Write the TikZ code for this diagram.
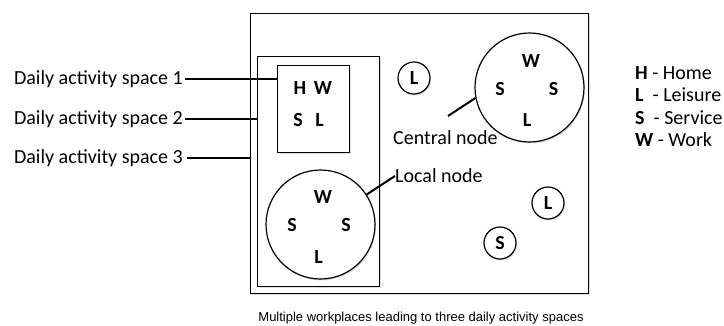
\documentclass[tikz,border=0pt]{standalone}
\usepackage{fontspec}
\setmainfont{Carlito}
\newfontfamily\captionfont{Liberation Sans}
\usetikzlibrary{shadows}

\begin{document}
\begin{tikzpicture}[x=1pt,y=-1pt,
  shade/.style={drop shadow={shadow xshift=1pt,shadow yshift=-1.5pt,opacity=0.25}},
  box/.style={draw,line width=1.2pt,fill=white,inner sep=0pt,shade},
  spot/.style={circle,draw,line width=1.2pt,fill=white,inner sep=0pt,shade},
  letter/.style={font=\fontsize{20}{24}\selectfont\bfseries,inner sep=0pt},
  lbl/.style={font=\fontsize{20}{24}\selectfont,inner sep=0pt},
  link/.style={line width=2pt}]

\useasboundingbox (0,0) rectangle (724,325);

% containers
\node[box,minimum width=338pt,minimum height=280pt,anchor=north west] (outer) at (250,13) {};
\node[box,minimum width=122pt,minimum height=230pt,anchor=north west] (mid) at (257,56) {};
\node[box,minimum width=72pt,minimum height=87pt,anchor=north west] (home) at (277,65) {};

% household letters
\node[letter] (h1) at (300,88) {H};
\node[letter] (w1) at (323,88) {W};
\node[letter] (s1) at (298,120) {S};
\node[letter] (l1) at (319.5,120) {L};

% local node
\node[spot,minimum size=109pt] (local) at (320.5,224.5) {};
\node[letter] (lw) at (323,197) {W};
\node[letter] (ls1) at (292,225) {S};
\node[letter] (ls2) at (346,225) {S};
\node[letter] (ll) at (318.5,257) {L};

% central node
\node[spot,minimum size=109pt] (central) at (529.5,87.5) {};
\node[letter] (cw) at (531,61) {W};
\node[letter] (cs1) at (500,89.5) {S};
\node[letter] (cs2) at (553.5,89.5) {S};
\node[letter] (cl) at (527,120) {L};

% isolated facilities
\node[spot,minimum size=32pt] (iso1) at (414,78) {};
\node[letter] at (iso1) {L};
\node[spot,minimum size=32pt] (iso2) at (548,203) {};
\node[letter] at (iso2) {L};
\node[spot,minimum size=32pt] (iso3) at (500,243) {};
\node[letter] at (iso3) {S};

% node labels
\node[lbl,anchor=west] (loclab) at (395,176) {Local node};
\draw[link] (local.33) -- (loclab.west);
\node[lbl,anchor=west] (cenlab) at (393,138) {Central node};
\coordinate (cenend) at (448,116);
\draw[link] (cenend) -- (central.191);

% activity space labels
\node[lbl,anchor=east] (das1) at (183,79) {Daily activity space 1};
\node[lbl,anchor=east] (das2) at (183,119) {Daily activity space 2};
\node[lbl,anchor=east] (das3) at (183,158) {Daily activity space 3};
\draw[link] ([xshift=2pt]das1.east) -- (das1.east -| home.west);
\draw[link] ([xshift=2pt]das2.east) -- (das2.east -| mid.west);
\draw[link] ([xshift=4pt]das3.east) -- (das3.east -| outer.west);

% legend
\node[lbl,anchor=base west] (lgh) at (635,79.3) {\textbf{H} - Home};
\node[lbl,anchor=base west] (lgl) at (635,101.7) {\textbf{L}\hspace{0.45em}- Leisure};
\node[lbl,anchor=base west] (lgs) at (635,124.3) {\textbf{S}\hspace{0.45em}- Service};
\node[lbl,anchor=base west] (lgw) at (635,146.7) {\textbf{W} - Work};

% caption
\node[font=\captionfont\fontsize{13}{15}\selectfont,inner sep=0pt] (cap) at (421,318) {Multiple workplaces leading to three daily activity spaces};
\end{tikzpicture}
\end{document}
